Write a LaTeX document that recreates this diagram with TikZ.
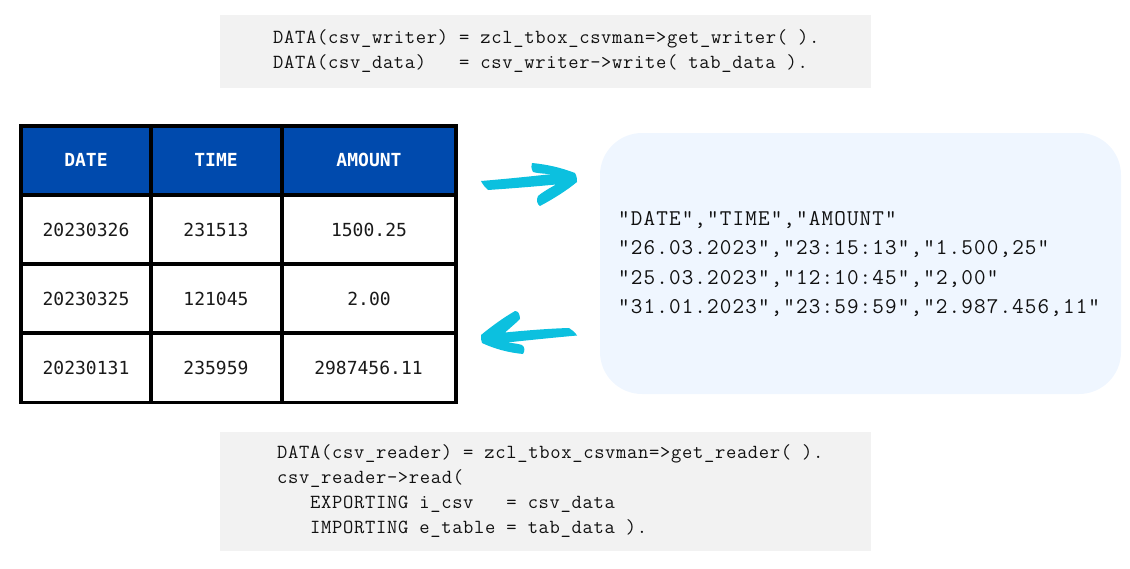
\documentclass[tikz,border=0pt]{standalone}
\usepackage{fontspec}
\newfontfamily\codefont[LetterSpace=3.4]{Latin Modern Mono}
\newfontfamily\csvfont[LetterSpace=5]{Latin Modern Mono}
\newfontfamily\cellfont{DejaVu Sans Mono}
\definecolor{codebg}{HTML}{F2F2F2}
\definecolor{boxbg}{HTML}{EFF6FF}
\definecolor{hdr}{HTML}{004AAD}
\definecolor{arrowc}{HTML}{0CC0DF}
\definecolor{codetx}{HTML}{111111}
\definecolor{celltx}{HTML}{1A1A1A}
\tikzset{
 x=1pt,y=-1pt,
 codeline/.style={anchor=base west,inner sep=0pt,font=\codefont\fontsize{20}{20}\selectfont,text=codetx},
 csvline/.style={anchor=base west,inner sep=0pt,font=\csvfont\fontsize{22.5}{23}\selectfont,text=codetx},
 hcell/.style={anchor=base,inner sep=0pt,text=white,font=\cellfont\bfseries\fontsize{18}{18}\selectfont},
 dcell/.style={anchor=base,inner sep=0pt,text=celltx,font=\cellfont\fontsize{18}{18}\selectfont},
 grid/.style={line width=3.2pt,draw=black},
}
\begin{document}
\begin{tikzpicture}
\useasboundingbox (0,0) rectangle (1130,568);
\fill[codebg] (220,15) rectangle (871,88);
\fill[codebg] (220,432) rectangle (871,551);
\fill[boxbg,rounded corners=42pt] (600,133) rectangle (1121,394);
\node[codeline] (c1) at (273,43) {DATA(csv\_writer) = zcl\_tbox\_csvman=>get\_writer( ).};
\node[codeline] (c2) at (273,68) {DATA(csv\_data)\ \ \ = csv\_writer->write( tab\_data ).};
\node[codeline] (r1) at (277,458) {DATA(csv\_reader) = zcl\_tbox\_csvman=>get\_reader( ).};
\node[codeline] (r2) at (277,483) {csv\_reader->read(};
\node[codeline] (r3) at (310,508) {EXPORTING i\_csv\ \ \ = csv\_data};
\node[codeline] (r4) at (310,533) {IMPORTING e\_table = tab\_data ).};
\node[csvline] (s1) at (618,225) {"DATE","TIME","AMOUNT"};
\node[csvline] (s2) at (618,254) {"26.03.2023","23:15:13","1.500,25"};
\node[csvline] (s3) at (618,284) {"25.03.2023","12:10:45","2,00"};
\node[csvline] (s4) at (618,313) {"31.01.2023","23:59:59","2.987.456,11"};
% table
\fill[hdr] (21,126) rectangle (456,195);
\fill[white] (21,195) rectangle (456,402);
\draw[grid] (21,126) rectangle (456,402.5);
\draw[grid] (151,126) -- (151,402);
\draw[grid] (282,126) -- (282,402);
\draw[grid] (21,195) -- (456,195);
\draw[grid] (21,264) -- (456,264);
\draw[grid] (21,333) -- (456,333);
\node[hcell] (h1) at (86,166) {DATE};
\node[hcell] (h2) at (216,166) {TIME};
\node[hcell] (h3) at (369,166) {AMOUNT};
\node[dcell] (a1) at (86,236) {20230326};
\node[dcell] (a2) at (216,236) {231513};
\node[dcell] (a3) at (369,236) {1500.25};
\node[dcell] (b1) at (86,305) {20230325};
\node[dcell] (b2) at (216,305) {121045};
\node[dcell] (b3) at (369,305) {2.00};
\node[dcell] (d1) at (86,374) {20230131};
\node[dcell] (d2) at (216,374) {235959};
\node[dcell] (d3) at (368.5,374) {2987456.11};
% hand-drawn arrows
\fill[arrowc] (481,181) .. controls (505,179) and (530,176.5) .. (552,174)
 .. controls (545,174) and (536,173) .. (533,172)
 .. controls (531,168) and (531,165) .. (532,163)
 .. controls (548,164.5) and (562,168) .. (575,173)
 .. controls (577,176) and (577,180) .. (577,182)
 .. controls (566,191) and (553,199) .. (540,206)
 .. controls (537,204) and (536,200) .. (538,196)
 .. controls (544,191) and (550,188) .. (556,184.5)
 .. controls (535,186.5) and (510,188.5) .. (488,190)
 .. controls (485,187) and (483,185) .. (481,181) -- cycle;
\fill[arrowc] (577,335.5) .. controls (555,337.5) and (530,340) .. (507,342.5)
 .. controls (513,343) and (519,344) .. (522,345)
 .. controls (525,347) and (525,351) .. (523,354)
 .. controls (508,352.5) and (495,349) .. (482,343)
 .. controls (481,341) and (481,338) .. (481,335)
 .. controls (492,326) and (503,318) .. (515,311)
 .. controls (518,311) and (520,314) .. (520,319)
 .. controls (516,323) and (510,328) .. (505,332.5)
 .. controls (525,330.5) and (550,328.5) .. (569,328)
 .. controls (572,330) and (575,332) .. (577,335.5) -- cycle;
\end{tikzpicture}
\end{document}
